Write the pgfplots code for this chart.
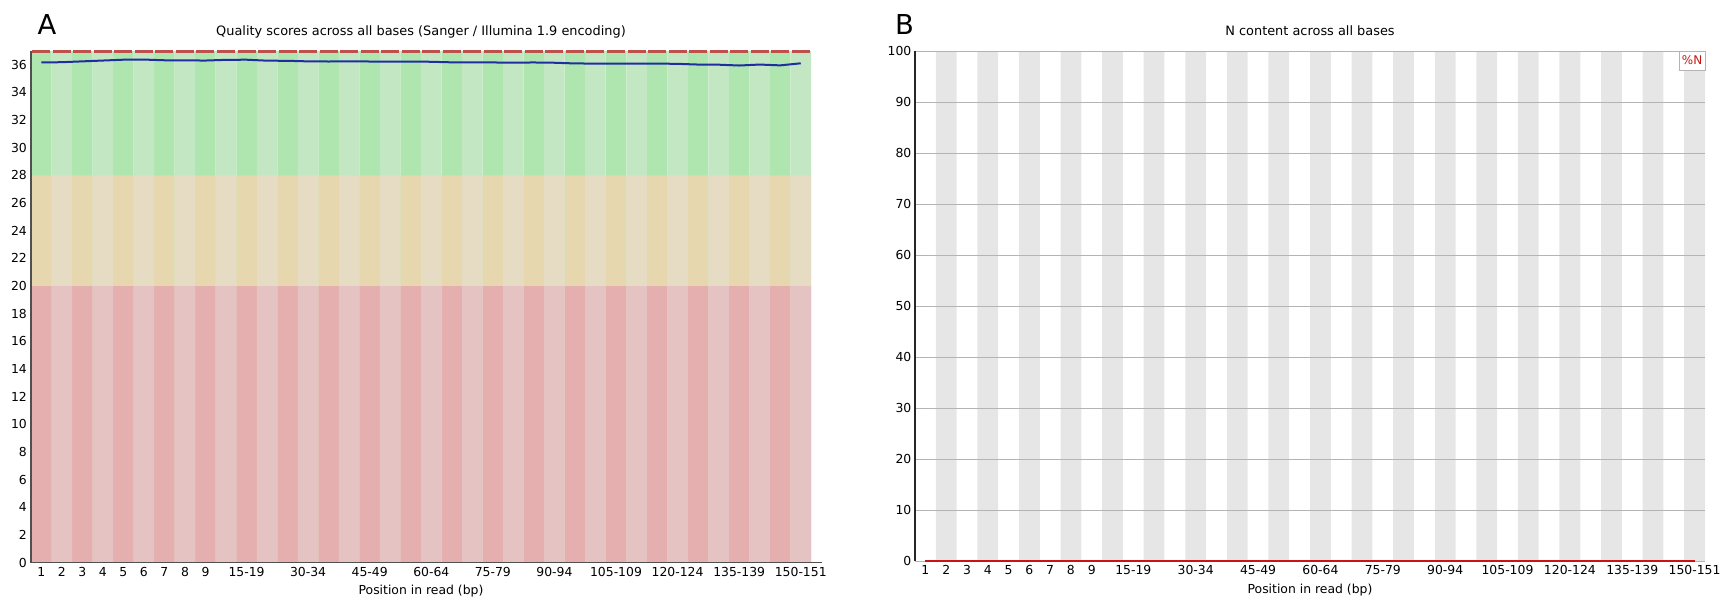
\documentclass[border=0pt]{standalone}
\usepackage{fontspec}
\setmainfont{DejaVu Sans}
\usepackage{pgfplots}
\usepackage{pgfplotstable}
\pgfplotsset{compat=1.18}
\definecolor{gooddark}{RGB}{175,230,175}
\definecolor{goodlight}{RGB}{195,230,195}
\definecolor{okdark}{RGB}{230,215,175}
\definecolor{oklight}{RGB}{230,220,195}
\definecolor{baddark}{RGB}{230,175,175}
\definecolor{badlight}{RGB}{230,195,195}
\definecolor{meanblue}{RGB}{30,45,160}
\definecolor{medred}{RGB}{190,80,75}
\definecolor{nred}{RGB}{200,20,20}
\definecolor{stripegray}{RGB}{230,230,230}
\definecolor{gridgray}{RGB}{180,180,180}
\definecolor{axisgray}{RGB}{80,80,80}

% per position: mean quality, median quality, N content
\pgfplotstableread{
x q med n
0 36.17 37 0
1 36.19 37 0
2 36.25 37 0
3 36.31 37 0
4 36.37 37 0
5 36.38 37 0
6 36.33 37 0
7 36.32 37 0
8 36.31 37 0
9 36.36 37 0
10 36.37 37 0
11 36.30 37 0
12 36.29 37 0
13 36.25 37 0
14 36.24 37 0
15 36.25 37 0
16 36.24 37 0
17 36.23 37 0
18 36.24 37 0
19 36.22 37 0
20 36.18 37 0
21 36.17 37 0
22 36.17 37 0
23 36.16 37 0
24 36.17 37 0
25 36.15 37 0
26 36.10 37 0
27 36.09 37 0
28 36.09 37 0
29 36.08 37 0
30 36.09 37 0
31 36.07 37 0
32 36.02 37 0
33 36.01 37 0
34 35.95 37 0
35 36.02 37 0
36 35.96 37 0
37 36.11 37 0
}\pos

% background bands (upper edges of the zones), even and odd columns
\pgfplotstableread{
x good ok bad
0 37 28 20
2 37 28 20
4 37 28 20
6 37 28 20
8 37 28 20
10 37 28 20
12 37 28 20
14 37 28 20
16 37 28 20
18 37 28 20
20 37 28 20
22 37 28 20
24 37 28 20
26 37 28 20
28 37 28 20
30 37 28 20
32 37 28 20
34 37 28 20
36 37 28 20
}\evencols
\pgfplotstableread{
x good ok bad full
1 37 28 20 100
3 37 28 20 100
5 37 28 20 100
7 37 28 20 100
9 37 28 20 100
11 37 28 20 100
13 37 28 20 100
15 37 28 20 100
17 37 28 20 100
19 37 28 20 100
21 37 28 20 100
23 37 28 20 100
25 37 28 20 100
27 37 28 20 100
29 37 28 20 100
31 37 28 20 100
33 37 28 20 100
35 37 28 20 100
37 37 28 20 100
}\oddcols

\pgfplotsset{
  fqc/.style={
    scale only axis,
    xmin=-0.5, xmax=37.5, ymin=0,
    set layers, clip=false,
    xtick={0,1,2,3,4,5,6,7,8,10,13,16,19,22,25,28,31,34,37},
    xticklabels={1,2,3,4,5,6,7,8,9,15-19,30-34,45-49,60-64,75-79,90-94,105-109,120-124,135-139,150-151},
    major tick length=0pt,
    tick label style={font=\fontsize{12.4}{14}\selectfont, inner sep=0pt},
    xticklabel style={yshift=-4.5pt},
    /pgf/number format/assume math mode=true,
    title style={at={(0.5,1)}, anchor=base, yshift=9.5pt, font=\fontsize{12.9}{15}\selectfont},
    xlabel={Position in read (bp)},
    xlabel style={at={(axis description cs:0.5,0)}, anchor=base, yshift=-32pt, font=\fontsize{12.4}{15}\selectfont},
  },
  band/.style={ybar, bar width=1, bar shift=0pt, draw=none, fill=#1, on layer=axis background},
}

\begin{document}
\begin{tikzpicture}
% ---------------- Panel A ----------------
\begin{axis}[fqc,
  at={(31pt,-562.5pt)}, anchor=south west,
  width=780pt, height=511.5pt,
  ymax=37,
  axis lines=left,
  axis line style={-, axisgray, line width=1.6pt},
  x axis line style={shorten >=-11pt},
  ytick={0,2,...,36},
  yticklabel style={xshift=-4pt},
  title={Quality scores across all bases (Sanger / Illumina 1.9 encoding)},
]
\addplot[band=gooddark] table[x=x,y=good]{\evencols};
\addplot[band=goodlight] table[x=x,y=good]{\oddcols};
\addplot[band=okdark] table[x=x,y=ok]{\evencols};
\addplot[band=oklight] table[x=x,y=ok]{\oddcols};
\addplot[band=baddark] table[x=x,y=bad]{\evencols};
\addplot[band=badlight] table[x=x,y=bad]{\oddcols};
\addplot[only marks, mark=-, mark size=9pt, mark options={line width=3pt, draw=medred}] table[x=x,y=med]{\pos};
\addplot[meanblue, line width=2pt, mark=none] table[x=x,y=q]{\pos};
\end{axis}
\node[anchor=base west, inner sep=0pt, font=\fontsize{27.4}{30}\selectfont] at (37.5pt,-35pt) {A};

% ---------------- Panel B ----------------
\begin{axis}[fqc,
  at={(915pt,-561pt)}, anchor=south west,
  width=790pt, height=510pt,
  ymax=100,
  axis x line=bottom, axis y line=left,
  y axis line style={-, black!85, line width=1.3pt},
  x axis line style={-, gridgray, line width=1pt},
  ymajorgrids, grid style={gridgray, line width=0.9pt},
  ytick={0,10,...,100},
  yticklabel style={xshift=-3.5pt},
  title={N content across all bases},
  legend style={at={(1,1)}, anchor=north east, draw=gridgray, fill=white,
    font=\fontsize{12}{14}\selectfont, inner xsep=1pt, inner ysep=3pt,
    nodes={inner sep=1.5pt}},
  legend cell align=left,
]
\addplot[band=stripegray, forget plot] table[x=x,y=full]{\oddcols};
\addplot[nred, line width=2.4pt, mark=none, legend image code/.code={}] table[x=x,y=n]{\pos};
\addlegendentry{\textcolor{nred}{\%N}}
\end{axis}
\node[anchor=base west, inner sep=0pt, font=\fontsize{27.4}{30}\selectfont] at (895pt,-35pt) {B};

\pgfresetboundingbox
\path (0pt,0pt) rectangle (1726pt,-602pt);
\end{tikzpicture}
\end{document}
